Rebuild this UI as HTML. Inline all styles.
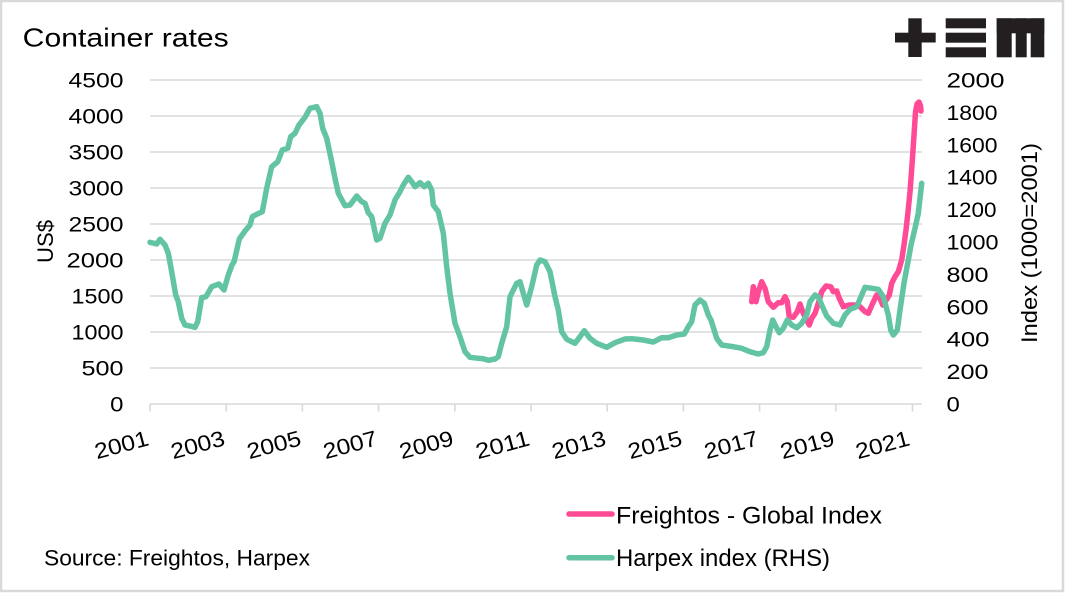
<!DOCTYPE html>
<html>
<head>
<meta charset="utf-8">
<style>
  html,body{margin:0;padding:0;background:#fff;}
  svg{display:block;}
  text{font-family:"Liberation Sans", sans-serif; fill:#000;}
</style>
</head>
<body>
<svg width="1065" height="593" viewBox="0 0 1065 593" xmlns="http://www.w3.org/2000/svg">
  <rect x="0" y="0" width="1065" height="593" fill="#fff"/>
  <rect x="1" y="1" width="1062" height="590" fill="none" stroke="#d9d9d9" stroke-width="2.5"/>

  <text x="22.7" y="46.7" font-size="26" textLength="206" lengthAdjust="spacingAndGlyphs">Container rates</text>

  <g fill="#231f20">
    <rect x="895" y="32.7" width="40.7" height="9.8"/>
    <rect x="908.3" y="18.3" width="13.4" height="38.7"/>
    <rect x="945.7" y="18.3" width="40.3" height="10"/>
    <rect x="945.7" y="32.7" width="40.3" height="10"/>
    <rect x="945.7" y="47.3" width="40.3" height="10"/>
    <rect x="996.7" y="18.3" width="47.6" height="15"/>
    <rect x="996.7" y="18.3" width="15" height="39"/>
    <rect x="1015.7" y="18.3" width="11" height="39"/>
    <rect x="1030.7" y="18.3" width="13.6" height="39"/>
  </g>

  <g stroke="#d9d9d9" stroke-width="1.6">
    <line x1="150" y1="80" x2="922" y2="80"/>
    <line x1="150" y1="116" x2="922" y2="116"/>
    <line x1="150" y1="152" x2="922" y2="152"/>
    <line x1="150" y1="188" x2="922" y2="188"/>
    <line x1="150" y1="224" x2="922" y2="224"/>
    <line x1="150" y1="260" x2="922" y2="260"/>
    <line x1="150" y1="296" x2="922" y2="296"/>
    <line x1="150" y1="332" x2="922" y2="332"/>
    <line x1="150" y1="368" x2="922" y2="368"/>
    <line x1="150" y1="404" x2="922" y2="404"/>
    <line x1="150" y1="404" x2="150" y2="411.5"/>
    <line x1="226.2" y1="404" x2="226.2" y2="411.5"/>
    <line x1="302.4" y1="404" x2="302.4" y2="411.5"/>
    <line x1="378.6" y1="404" x2="378.6" y2="411.5"/>
    <line x1="454.8" y1="404" x2="454.8" y2="411.5"/>
    <line x1="531" y1="404" x2="531" y2="411.5"/>
    <line x1="607.2" y1="404" x2="607.2" y2="411.5"/>
    <line x1="683.4" y1="404" x2="683.4" y2="411.5"/>
    <line x1="759.6" y1="404" x2="759.6" y2="411.5"/>
    <line x1="835.8" y1="404" x2="835.8" y2="411.5"/>
    <line x1="912.5" y1="404" x2="912.5" y2="411.5"/>
  </g>

  <g font-size="21" text-anchor="end">
    <text x="123.5" y="87.5" textLength="55" lengthAdjust="spacingAndGlyphs">4500</text>
    <text x="123.5" y="123.5" textLength="55" lengthAdjust="spacingAndGlyphs">4000</text>
    <text x="123.5" y="159.5" textLength="55" lengthAdjust="spacingAndGlyphs">3500</text>
    <text x="123.5" y="195.5" textLength="55" lengthAdjust="spacingAndGlyphs">3000</text>
    <text x="123.5" y="231.5" textLength="55" lengthAdjust="spacingAndGlyphs">2500</text>
    <text x="123.5" y="267.5" textLength="57" lengthAdjust="spacingAndGlyphs">2000</text>
    <text x="123.5" y="303.5" textLength="52" lengthAdjust="spacingAndGlyphs">1500</text>
    <text x="123.5" y="339.5" textLength="52" lengthAdjust="spacingAndGlyphs">1000</text>
    <text x="123.5" y="375.5" textLength="42" lengthAdjust="spacingAndGlyphs">500</text>
    <text x="123.5" y="411.5" textLength="13.3" lengthAdjust="spacingAndGlyphs">0</text>
  </g>

  <g font-size="21" text-anchor="start">
    <text x="946.5" y="87.5" textLength="58" lengthAdjust="spacingAndGlyphs">2000</text>
    <text x="946.5" y="119.9" textLength="51" lengthAdjust="spacingAndGlyphs">1800</text>
    <text x="946.5" y="152.3" textLength="51" lengthAdjust="spacingAndGlyphs">1600</text>
    <text x="946.5" y="184.7" textLength="51" lengthAdjust="spacingAndGlyphs">1400</text>
    <text x="946.5" y="217.1" textLength="50" lengthAdjust="spacingAndGlyphs">1200</text>
    <text x="946.5" y="249.5" textLength="52" lengthAdjust="spacingAndGlyphs">1000</text>
    <text x="946.5" y="281.9" textLength="42" lengthAdjust="spacingAndGlyphs">800</text>
    <text x="946.5" y="314.3" textLength="42" lengthAdjust="spacingAndGlyphs">600</text>
    <text x="946.5" y="346.7" textLength="43" lengthAdjust="spacingAndGlyphs">400</text>
    <text x="946.5" y="379.1" textLength="42" lengthAdjust="spacingAndGlyphs">200</text>
    <text x="946.5" y="411.5" textLength="13.3" lengthAdjust="spacingAndGlyphs">0</text>
  </g>

  <text transform="translate(53,241.5) rotate(-90)" text-anchor="middle" font-size="22" textLength="43" lengthAdjust="spacingAndGlyphs">US$</text>
  <text transform="translate(1037,243) rotate(-90)" text-anchor="middle" font-size="22" textLength="200" lengthAdjust="spacingAndGlyphs">Index (1000=2001)</text>

  <g font-size="22" text-anchor="end">
    <text transform="translate(150,445) rotate(-15)" textLength="55" lengthAdjust="spacingAndGlyphs">2001</text>
    <text transform="translate(226.2,445) rotate(-15)" textLength="55" lengthAdjust="spacingAndGlyphs">2003</text>
    <text transform="translate(302.4,445) rotate(-15)" textLength="55" lengthAdjust="spacingAndGlyphs">2005</text>
    <text transform="translate(378.6,445) rotate(-15)" textLength="55" lengthAdjust="spacingAndGlyphs">2007</text>
    <text transform="translate(454.8,445) rotate(-15)" textLength="55" lengthAdjust="spacingAndGlyphs">2009</text>
    <text transform="translate(531,445) rotate(-15)" textLength="55" lengthAdjust="spacingAndGlyphs">2011</text>
    <text transform="translate(607.2,445) rotate(-15)" textLength="55" lengthAdjust="spacingAndGlyphs">2013</text>
    <text transform="translate(683.4,445) rotate(-15)" textLength="55" lengthAdjust="spacingAndGlyphs">2015</text>
    <text transform="translate(759.6,445) rotate(-15)" textLength="55" lengthAdjust="spacingAndGlyphs">2017</text>
    <text transform="translate(835.8,445) rotate(-15)" textLength="55" lengthAdjust="spacingAndGlyphs">2019</text>
    <text transform="translate(911,445) rotate(-15)" textLength="55" lengthAdjust="spacingAndGlyphs">2021</text>
  </g>

  <polyline fill="none" stroke="#ff4a96" stroke-width="5.5" stroke-linejoin="round" stroke-linecap="round"
    points="751.7,301.7 753.3,286.7 756,301.7 758.3,291.7 761.7,281.7 765,288.3 768.3,301.7 773.3,307.3 778.3,302.7 781.7,302.7 785,296.7 787.3,301.7 789.3,316.7 793.3,317.3 797.3,311.7 800,304 803.3,313.3 806.7,320 809.3,325 811.7,318.3 815,313.3 818.3,303.3 821.7,291.7 826,286 830.7,286.7 833.3,291.7 836.7,291 839.3,298.3 843.3,306.7 849.3,305 855,305 860,306.7 865,311.7 868.3,313.3 872.7,303.3 876.7,295 880,298.3 882.7,305 886.7,299.3 889.3,295 891.7,283.3 895,276.7 898.3,271.7 901.7,260 904,245 906,230 908,212 910,192 912,165 914,135 915.5,112 917,104 919,102 920.5,106 921,111"/>

  <polyline fill="none" stroke="#63c4a3" stroke-width="5.5" stroke-linejoin="round" stroke-linecap="round"
    points="150,242.3 156.7,244 160,239.3 165,245 168.3,253.3 171.7,271.7 175.7,295 178.3,301.7 181.7,318.3 185,325 190,326 195,327.3 197.7,321.7 201.7,297.7 206,296.7 211.7,286.7 219,284 224,290 228.3,275 231.7,265.7 234.3,261 239.3,239 245,231 250,225 252.3,216.7 256.7,214.3 262.3,211.7 266.7,188.3 271.7,166.7 277.7,161.7 282.3,150 287.7,148.3 290.7,136.7 295,133.3 299,125 305,117.3 310,108.3 316.7,106.7 320,113.3 322.7,128.3 326.7,138.3 331.7,161.7 335,178.3 338.3,193.3 345,205.7 350,205 356.7,196 361.7,201.7 365,203.3 368.3,212.7 371.7,216.7 376.7,240 380,238.3 385,223.3 390,215 395,200 400,191.7 403.3,185 408.3,177.3 411.7,181.7 415,186.7 420,182.7 424.3,186.7 428.3,183.3 431.7,190 433.3,205 438.3,211.7 443.3,233.3 446.7,266.7 450,293.3 455,323.3 460,336.7 465,351.7 470,357.3 478.3,358.3 483.3,358.7 488.3,360.3 495,359 498.3,356.7 501.7,343.3 506.7,326.7 510,296.7 516.7,283.3 520,281.7 523.3,293.3 526.7,305 531.7,286.7 536.7,265 540,260 545,261.7 550,271.7 555,296.7 558.3,310 561.7,331.7 566.7,339.3 575,343.3 580,336.7 584.3,330.7 590,338.3 596.7,343.3 606.7,347.3 615,342.7 625,339 631.7,338.7 643.3,340 653.3,342 661.7,337.7 668.3,337.7 676.7,335 684.3,334 688.3,326.7 691.7,321.7 695,305 700,300 704.3,303.3 708.3,315 711,320 716.7,338.3 721.7,345 733.3,346.7 741.7,348.3 750,351.7 758.3,354 763.3,352.7 766.7,346.7 770,330 772.7,320 776,326.7 779.3,332.7 783.3,328.3 787.3,320 791.7,325 796.7,327.7 801.7,323.3 806.7,315 810,301.7 815,295 818.3,296.7 821.7,305 826.7,316 833.3,323.3 840,325 845,315 850,309.3 856.7,306.7 861.7,295 865,287.3 871.7,288.3 878.3,289.3 883.3,296.7 888.3,315 890.7,330 893.3,335 897.3,330 900,310 904,283.3 908.3,260 911,245 915,228.3 918.3,213.3 921.7,183.3"/>

  <line x1="569" y1="514" x2="612" y2="514" stroke="#ff4a96" stroke-width="5.5" stroke-linecap="round"/>
  <text x="616" y="523.3" font-size="24" textLength="266" lengthAdjust="spacingAndGlyphs">Freightos - Global Index</text>
  <line x1="569" y1="557.7" x2="612" y2="557.7" stroke="#63c4a3" stroke-width="5.5" stroke-linecap="round"/>
  <text x="616" y="566" font-size="24" textLength="214" lengthAdjust="spacingAndGlyphs">Harpex index (RHS)</text>

  <text x="44" y="565.7" font-size="22" textLength="266" lengthAdjust="spacingAndGlyphs">Source: Freightos, Harpex</text>
</svg>
</body>
</html>
